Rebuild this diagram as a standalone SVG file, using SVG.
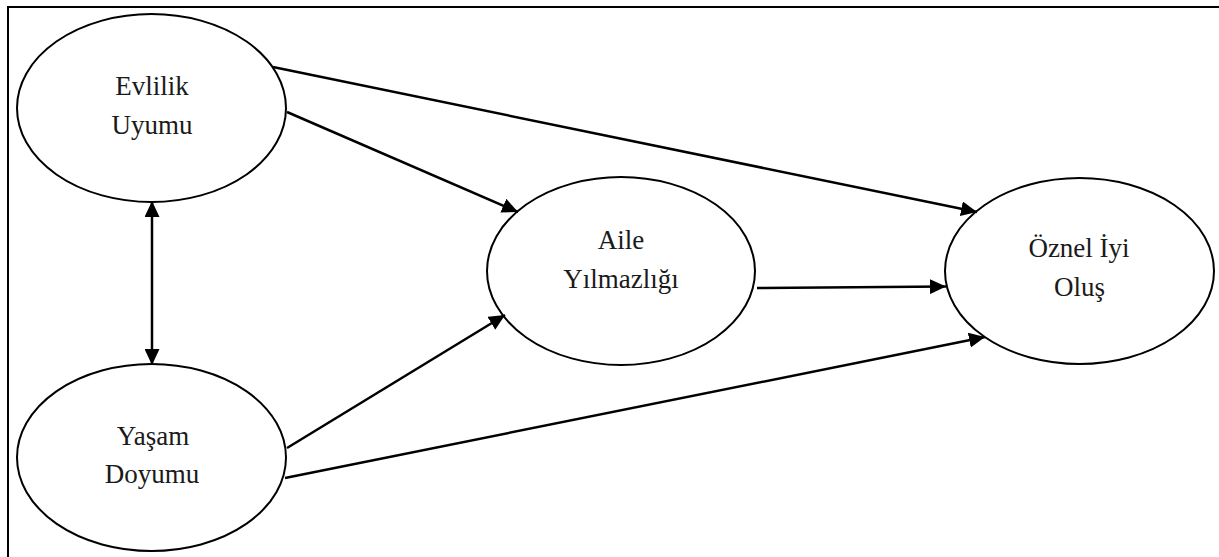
<svg xmlns="http://www.w3.org/2000/svg" width="1219" height="557" viewBox="0 0 1219 557">
<defs>
<style>
.node ellipse{fill:#fff;stroke:#000;stroke-width:2}
.node text{font-family:"Liberation Serif","Times New Roman",serif;font-size:27px;fill:#1a1a1a;text-anchor:middle}
.edges line{stroke:#000;stroke-width:2.5;fill:none}
.frame{stroke:#000;stroke-width:2;fill:none}
</style>
<marker id="ah" markerUnits="userSpaceOnUse" markerWidth="16" markerHeight="15" refX="16" refY="7.5" orient="auto-start-reverse">
<path d="M0,0 L16,7.5 L0,15 Z" fill="#000"/>
</marker>
</defs>
<rect width="1219" height="557" fill="#fff"/>
<path class="frame" d="M8,557 L8,7 L1219,7"/>
<g id="n-evlilik" class="node">
<ellipse cx="151.5" cy="108" rx="134.5" ry="94"/>
<text x="152" y="95">Evlilik</text>
<text x="152" y="134">Uyumu</text>
</g>
<g id="n-yasam" class="node">
<ellipse cx="151.5" cy="457.5" rx="134.5" ry="93.5"/>
<text x="153" y="445">Yaşam</text>
<text x="152" y="483">Doyumu</text>
</g>
<g id="n-aile" class="node">
<ellipse cx="621" cy="271" rx="134" ry="94"/>
<text x="621" y="249">Aile</text>
<text x="621" y="288">Yılmazlığı</text>
</g>
<g id="n-oznel" class="node">
<ellipse cx="1079.5" cy="271" rx="134.5" ry="93"/>
<text x="1079" y="257">Öznel İyi</text>
<text x="1079.5" y="296">Oluş</text>
</g>
<g id="edges" class="edges">
<line x1="273" y1="67" x2="977" y2="212" marker-end="url(#ah)"/>
<line x1="287" y1="112" x2="518" y2="212" marker-end="url(#ah)"/>
<line x1="757" y1="288" x2="946" y2="286.5" marker-end="url(#ah)"/>
<line x1="287" y1="448" x2="505" y2="315" marker-end="url(#ah)"/>
<line x1="285" y1="478" x2="985" y2="337" marker-end="url(#ah)"/>
<line x1="152" y1="201" x2="152" y2="365" marker-start="url(#ah)" marker-end="url(#ah)"/>
</g>
</svg>
